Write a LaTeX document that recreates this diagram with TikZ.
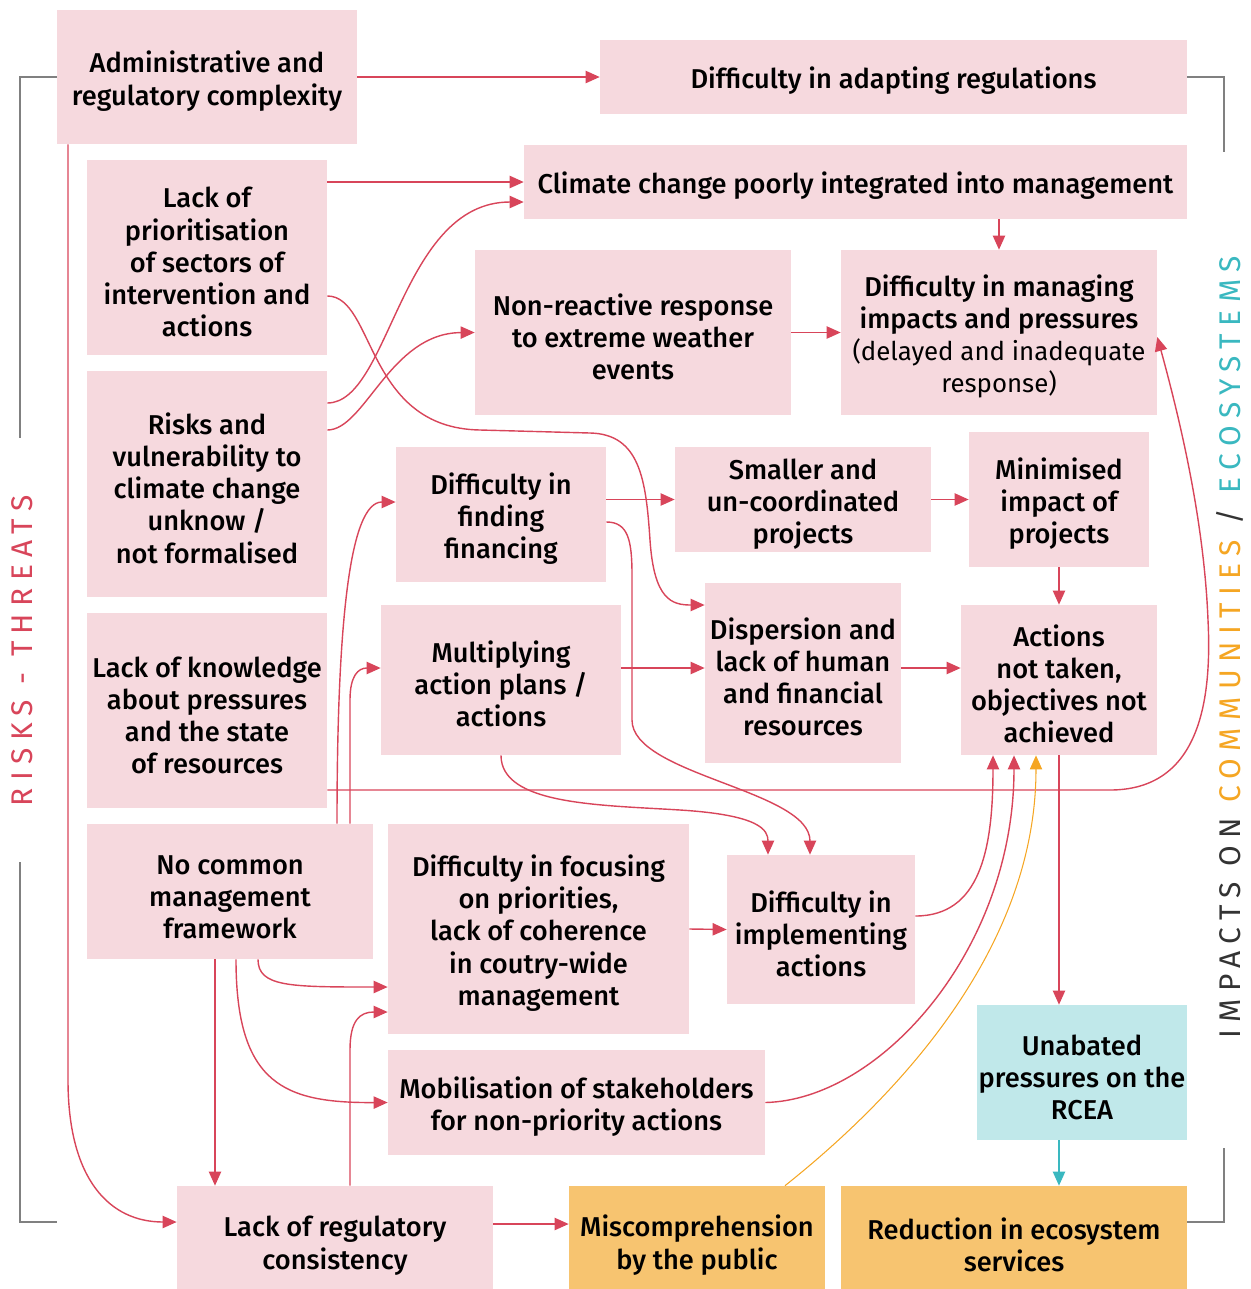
\documentclass[tikz,border=0pt]{standalone}
\usepackage{fontspec}
\setmainfont{Fira Sans}[UprightFont={* Medium},BoldFont={* SemiBold}]
\newfontfamily\lightfont{Fira Sans}
\newfontfamily\sidefont{Fira Sans}[LetterSpace=25]
\usepackage{tikz}
\usetikzlibrary{positioning,arrows.meta,calc}

\definecolor{boxpink}{HTML}{F6D9DE}
\definecolor{boxorange}{HTML}{F7C470}
\definecolor{boxcyan}{HTML}{C0E8EA}
\definecolor{linered}{HTML}{D8455A}
\definecolor{lineorange}{HTML}{F5A623}
\definecolor{linecyan}{HTML}{3AB8C0}
\definecolor{labdark}{HTML}{333333}
\newcommand{\boxstrut}{\rule{0pt}{17pt}}

\begin{document}
\begin{tikzpicture}[x=0.02cm,y=-0.02cm,
  pinkbox/.style={fill=boxpink,inner sep=0pt,align=center,font=\fontsize{15.5}{18.3}\selectfont},
  orangebox/.style={pinkbox,fill=boxorange},
  cyanbox/.style={pinkbox,fill=boxcyan},
  arr/.style={draw=linered,line width=0.8pt,-{Triangle[length=8pt,width=7pt]}},
  oarr/.style={arr,draw=lineorange,line width=0.6pt},
  carr/.style={arr,draw=linecyan},
  bracket/.style={draw=gray,line width=0.6pt}]
  \useasboundingbox (0,0) rectangle (1251,1289);
  % causes
  \node (admin) [pinkbox,minimum width=6cm,minimum height=2.68cm] at (207,77) {\boxstrut Administrative and\\regulatory complexity};
  \node (adapt) [pinkbox,minimum width=11.74cm,minimum height=1.48cm] at (893.5,77) {\boxstrut Difficulty in adapting regulations};
  \node (prior) [pinkbox,minimum width=4.8cm,minimum height=3.9cm] at (207,257.5) {\boxstrut Lack of\\prioritisation\\of sectors of\\intervention and\\actions};
  \node (climate) [pinkbox,minimum width=13.26cm,minimum height=1.48cm] at (855.5,182) {\boxstrut Climate change poorly integrated into management};
  \node (risks) [pinkbox,minimum width=4.8cm,minimum height=4.52cm] at (207,484) {\boxstrut Risks and\\vulnerability to\\climate change\\unknow /\\not formalised};
  \node (nonreact) [pinkbox,minimum width=6.32cm,minimum height=3.3cm] at (633,332.5) {\boxstrut Non-reactive response\\to extreme weather\\events};
  \node (managing) [pinkbox,minimum width=6.32cm,minimum height=3.3cm] at (999,332.5) {\boxstrut Difficulty in managing\\impacts and pressures\\{\lightfont\fontsize{14.7}{18.3}\selectfont(delayed and inadequate}\\{\lightfont\fontsize{14.7}{18.3}\selectfont response)}};
  \node (financing) [pinkbox,minimum width=4.2cm,minimum height=2.7cm] at (501,514.5) {\boxstrut Difficulty in\\finding\\financing};
  \node (smaller) [pinkbox,minimum width=5.12cm,minimum height=2.1cm] at (803,499.5) {\boxstrut Smaller and\\un-coordinated\\projects};
  \node (minimised) [pinkbox,minimum width=3.6cm,minimum height=2.7cm] at (1059,499.5) {\boxstrut Minimised\\impact of\\projects};
  \node (knowledge) [pinkbox,minimum width=4.8cm,minimum height=3.9cm] at (207,710.5) {\boxstrut Lack of knowledge\\about pressures\\and the state\\of resources};
  \node (multiplying) [pinkbox,minimum width=4.8cm,minimum height=3cm] at (501,680) {\boxstrut Multiplying\\action plans /\\actions};
  \node (dispersion) [pinkbox,minimum width=3.92cm,minimum height=3.6cm] at (803,673) {\boxstrut Dispersion and\\lack of human\\and financial\\resources};
  \node (actions) [pinkbox,minimum width=3.92cm,minimum height=3cm] at (1059,680) {\boxstrut Actions\\not taken,\\objectives not\\achieved};
  \node (nocommon) [pinkbox,minimum width=5.72cm,minimum height=2.7cm] at (230,891.5) {\boxstrut No common\\management\\framework};
  \node (focusing) [pinkbox,minimum width=6.02cm,minimum height=4.2cm] at (538.5,929) {\boxstrut Difficulty in focusing\\on priorities,\\lack of coherence\\in coutry-wide\\management};
  \node (implementing) [pinkbox,minimum width=3.76cm,minimum height=2.98cm] at (821,929.5) {\boxstrut Difficulty in\\implementing\\actions};
  \node (mobilisation) [pinkbox,minimum width=7.54cm,minimum height=2.1cm] at (576.5,1102.5) {\boxstrut Mobilisation of stakeholders\\for non-priority actions};
  % impacts
  \node (unabated) [cyanbox,minimum width=4.2cm,minimum height=2.7cm] at (1082,1072.5) {\boxstrut Unabated\\pressures on the\\RCEA};
  \node (regulatory) [pinkbox,minimum width=6.32cm,minimum height=2.2cm] at (335,1241) {\boxstrut Lack of regulatory\\consistency};
  \node (miscomp) [orangebox,minimum width=5.12cm,minimum height=2.2cm] at (697,1241) {\boxstrut Miscomprehension\\by the public};
  \node (reduction) [orangebox,minimum width=6.92cm,minimum height=2.2cm] at (1014,1241) {\boxstrut Reduction in ecosystem\\services};
  % side labels
  \node (threats) [rotate=90,text=linered,font=\sidefont\fontsize{17}{20}\selectfont] at (22,651) {RISKS - THREATS};
  \node (impacts) [rotate=90,font=\sidefont\fontsize{17}{20}\selectfont] at (1230,647.5) {\textcolor{labdark}{IMPACTS ON} \textcolor{lineorange}{COMMUNITIES} \textcolor{labdark}{/} \textcolor{linecyan}{ECOSYSTEMS}};
  \draw[bracket] (admin.west) -- (20,77) -- (20,438);
  \draw[bracket] (20,862) -- (20,1222) -- (admin.west |- 0,1222);
  \draw[bracket] (adapt.east) -- (1224,77) -- (1224,152);
  \draw[bracket] (1224,1148) -- (1224,1222) -- (reduction.east |- 0,1222);
  % links
  \draw[arr] (admin.east) -- (adapt.west);
  \draw[arr] (admin.south -| 68,0) -- (68,1080) .. controls (68,1180) and (110,1222) .. (regulatory.west |- 0,1222);
  \draw[arr] (prior.east |- climate.west) -- (climate.west);
  \draw[arr] (prior.east |- 0,296) .. controls (375,296) and (365,428) .. (480,430) -- (590,433) .. controls (640,434) and (646,480) .. (650,540) .. controls (654,600) and (672,605) .. (dispersion.west |- 0,605);
  \draw[arr] (risks.east |- 0,403) .. controls (390,403) and (400,202) .. (climate.west |- 0,202);
  \draw[arr] (risks.east |- 0,430) .. controls (365,430) and (390,333) .. (nonreact.west);
  \draw[arr] (nonreact.east) -- (managing.west);
  \draw[arr] (climate.south -| managing.north) -- (managing.north);
  \draw[arr] (knowledge.east |- 0,790) -- (1110,790) .. controls (1200,790) and (1212,700) .. (1208,620) .. controls (1204,520) and (1180,420) .. (managing.east |- 0,337);
  \draw[arr] (financing.east |- smaller.west) -- (smaller.west);
  \draw[arr] (financing.east |- 0,522) .. controls (628,522) and (632,540) .. (632,575) -- (632,720) .. controls (632,775) and (810,790) .. (implementing.north -| 810,0);
  \draw[arr] (smaller.east) -- (minimised.west);
  \draw[arr] (minimised.south) -- (actions.north);
  \draw[arr] (multiplying.east |- 0,668) -- (dispersion.west |- 0,668);
  \draw[arr] (dispersion.east |- 0,668) -- (actions.west |- 0,668);
  \draw[arr] (multiplying.south) .. controls (501,805) and (600,805) .. (680,810) .. controls (760,815) and (768,830) .. (implementing.north -| 768,0);
  \draw[arr] (nocommon.north -| 337,0) .. controls (337,620) and (350,502) .. (financing.west |- 0,502);
  \draw[arr] (nocommon.north -| 350,0) -- (350,700) .. controls (350,676) and (358,668) .. (multiplying.west |- 0,668);
  \draw[arr] (nocommon.south -| 215,0) -- (regulatory.north -| 215,0);
  \draw[arr] (nocommon.south -| 258,0) .. controls (258,987) and (290,987) .. (focusing.west |- 0,987);
  \draw[arr] (nocommon.south -| 236,0) .. controls (236,1085) and (285,1103) .. (mobilisation.west);
  \draw[arr] (regulatory.north -| 350,0) -- (350,1050) .. controls (350,1020) and (360,1012) .. (focusing.west |- 0,1012);
  \draw[arr] (regulatory.east |- 0,1224) -- (miscomp.west |- 0,1224);
  \draw[arr] (focusing.east) -- (implementing.west);
  \draw[arr] (implementing.east |- 0,916) .. controls (980,916) and (993,850) .. (actions.south -| 993,0);
  \draw[arr] (mobilisation.east) .. controls (880,1100) and (1014,950) .. (actions.south -| 1014,0);
  \draw[oarr] (miscomp.north -| 785,0) .. controls (880,1110) and (1036,960) .. (actions.south -| 1036,0);
  \draw[arr] (actions.south) -- (actions.south |- unabated.north);
  \draw[carr] (unabated.south -| actions.south) -- (reduction.north -| actions.south);
\end{tikzpicture}
\end{document}
